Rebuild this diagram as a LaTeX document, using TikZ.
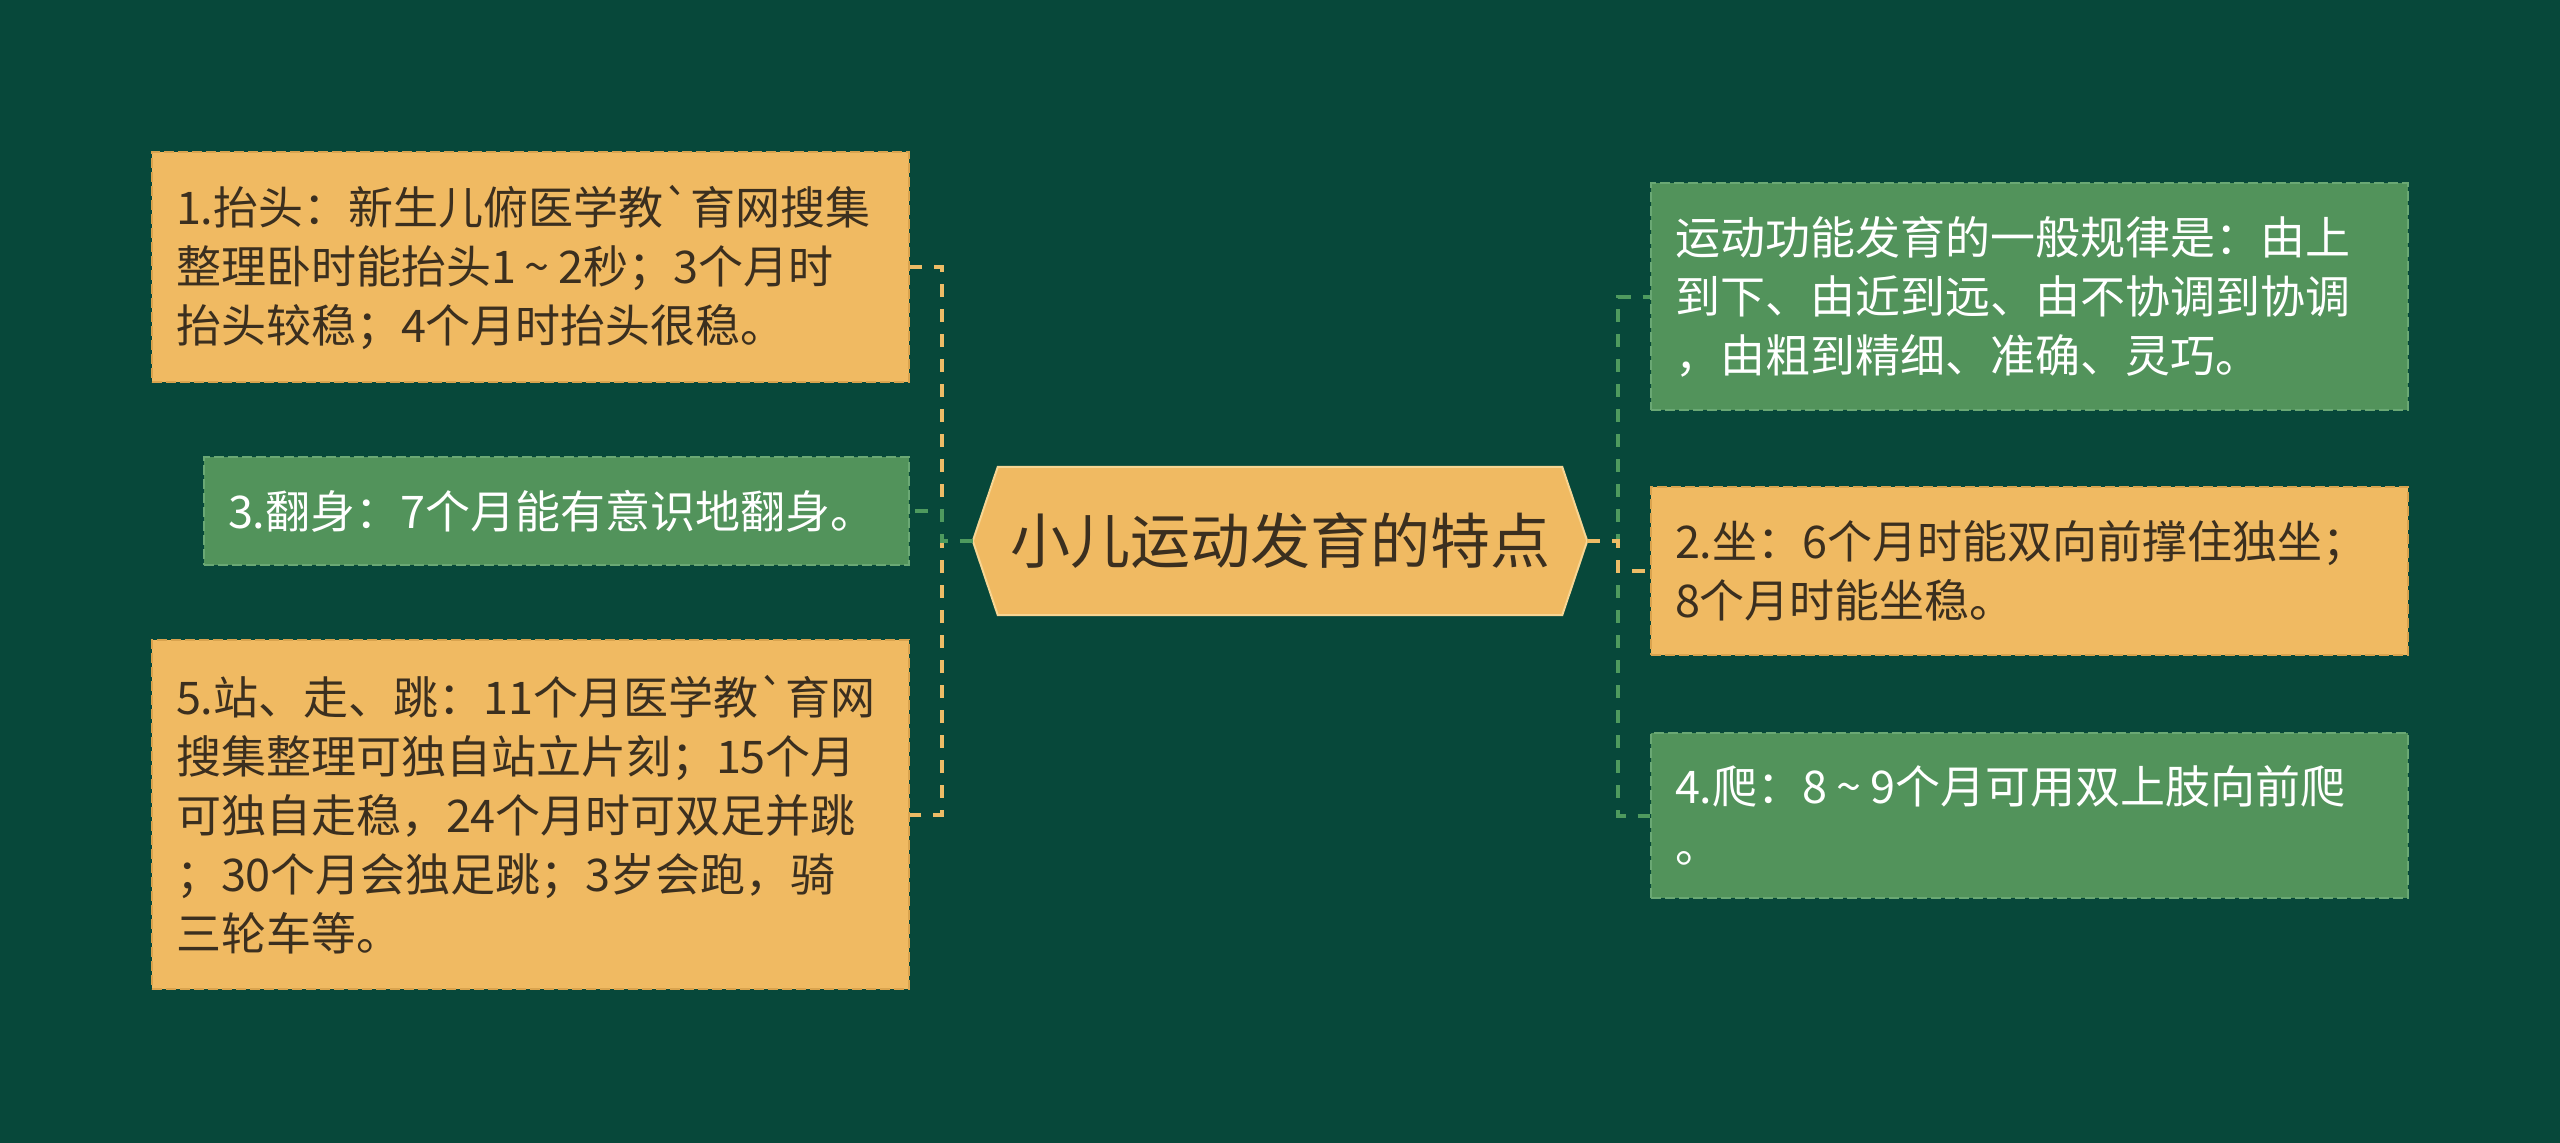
\documentclass[tikz,border=0pt]{standalone}
\usepackage{fontspec}
\newfontfamily\cjk{Noto Sans CJK SC}
\usetikzlibrary{calc}
\definecolor{bgc}{HTML}{07483A}
\definecolor{org}{HTML}{F0BA62}
\definecolor{orgd}{HTML}{D9A34E}
\definecolor{grn}{HTML}{52935B}
\definecolor{grnd}{HTML}{6AA874}
\definecolor{txtd}{HTML}{3B2F1F}
\definecolor{lineo}{HTML}{EDBC66}
\definecolor{lineg}{HTML}{4E9A5E}
\definecolor{hexb}{HTML}{F7D592}
\newcommand{\tld}{\hspace{0.2em}\char126\hspace{0.2em}}
\pgfdeclarelayer{bg}
\pgfsetlayers{bg,main}
\begin{document}
\begin{tikzpicture}[x=1pt,y=-1pt,
 box/.style={rectangle, inner xsep=24pt, inner ysep=0pt, text width=709pt, align=left,
   font=\cjk\fontsize{45}{59}\selectfont, line width=2.5pt, dash pattern=on 10pt off 4pt},
 obox/.style={box, fill=org, draw=orgd, text=txtd},
 gbox/.style={box, fill=grn, draw=grnd, text=white},
 conn/.style={line width=4pt, dash pattern=on 13pt off 12pt},
 oconn/.style={conn, draw=lineo},
 gconn/.style={conn, draw=lineg},
 hexnode/.style={rectangle, inner sep=0pt, minimum width=564pt, minimum height=148pt,
   font=\cjk\fontsize{60}{70}\selectfont, text=txtd}
]
\begin{pgfonlayer}{bg}
\fill[bgc] (0,0) rectangle (2560,1143);
\end{pgfonlayer}
\useasboundingbox (0,0) rectangle (2560,1143);

% center
\node[hexnode] (c) at (1280,541) {小儿运动发育的特点};
\coordinate (cw) at ([xshift=-25pt]c.west);
\coordinate (ce) at ([xshift=25pt]c.east);
\begin{pgfonlayer}{bg}
\draw[fill=org, draw=hexb, line width=2pt] (c.north west) -- (c.north east) -- (ce) -- (c.south east) -- (c.south west) -- (cw) -- cycle;
\end{pgfonlayer}

% left boxes
\node[obox, minimum height=230pt] (b1) at (530.5,267) {1.抬头：新生儿俯医学教\char96 育网搜集\\整理卧时能抬头1\tld 2秒；3个月时\\抬头较稳；4个月时抬头很稳。};
\node[gbox, text width=657pt, minimum height=108pt] (b3) at (556.5,511) {3.翻身：7个月能有意识地翻身。};
\node[obox, minimum height=349pt] (b5) at (530.5,814.5) {5.站、走、跳：11个月医学教\char96 育网\\搜集整理可独自站立片刻；15个月\\可独自走稳，24个月时可双足并跳\\；30个月会独足跳；3岁会跑，骑\\三轮车等。};

% right boxes
\node[gbox, minimum height=227pt] (r1) at (2029.5,296.5) {运动功能发育的一般规律是：由上\\到下、由近到远、由不协调到协调\\，由粗到精细、准确、灵巧。};
\node[obox, minimum height=168pt] (r2) at (2029.5,571) {2.坐：6个月时能双向前撑住独坐；\\8个月时能坐稳。};
\node[gbox, minimum height=165pt] (r3) at (2029.5,815.5) {4.爬：8\tld 9个月可用双上肢向前爬\\。};

% connectors
\coordinate (xl) at (942,0);
\coordinate (xr) at (1618,0);
\draw[oconn] (cw) -- (cw -| xl) |- (b1.east);
\draw[oconn] (cw) -- (cw -| xl) |- (b5.east);
\draw[gconn] (cw) -- (cw -| xl) |- (b3.east);
\draw[gconn] (ce) -- (ce -| xr) |- (r1.west);
\draw[gconn] (ce) -- (ce -| xr) |- (r3.west);
\draw[oconn] (ce) -- (ce -| xr) |- (r2.west);
\end{tikzpicture}
\end{document}
